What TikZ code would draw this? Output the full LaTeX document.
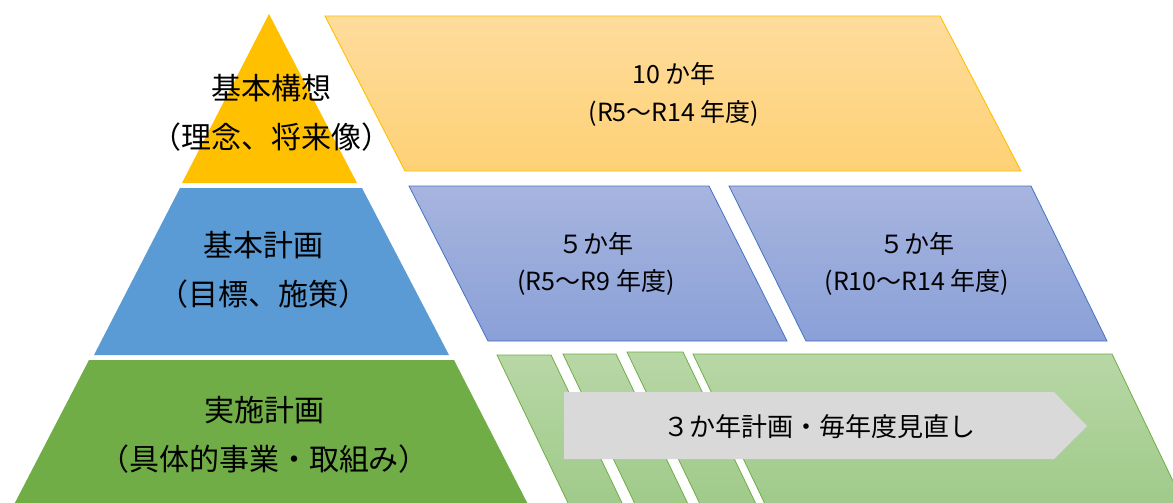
\documentclass[tikz,border=0pt]{standalone}
\usepackage{fontspec}
\setmainfont{Noto Sans CJK JP}
\usetikzlibrary{calc}
\definecolor{pyrGold}{HTML}{FFC000}
\definecolor{pyrBlue}{HTML}{5B9BD5}
\definecolor{pyrGreen}{HTML}{70AD47}
\definecolor{goldTop}{HTML}{FEDC9C}
\definecolor{goldBottom}{HTML}{FED176}
\definecolor{blueEdge}{HTML}{4472C4}
\definecolor{blueTop}{HTML}{A7B5DF}
\definecolor{blueBottom}{HTML}{8AA0D7}
\definecolor{greenTop}{HTML}{B8D7A6}
\definecolor{greenBottom}{HTML}{9DC987}
\definecolor{arrowGray}{HTML}{D9D9D9}
\tikzset{
    pyrText/.style={
        ,   align=center
        ,   font=\fontsize{30}{49}\selectfont
        ,   text=black
    },
    spanText/.style={
        ,   align=center
        ,   font=\fontsize{25}{37.5}\selectfont
        ,   text=black
    },
    goldSpan/.style={
        ,   draw=pyrGold
        ,   line width=0.9pt
        ,   top color=goldTop
        ,   bottom color=goldBottom
    },
    blueSpan/.style={
        ,   draw=blueEdge
        ,   line width=0.8pt
        ,   top color=blueTop
        ,   bottom color=blueBottom
    },
    greenSpan/.style={
        ,   draw=pyrGreen
        ,   line width=0.8pt
        ,   top color=greenTop
        ,   bottom color=greenBottom
    }
}
\begin{document}
\begin{tikzpicture}[x=1pt,y=-1pt]
	\clip (0,0) rectangle (1173,503);
	\fill[white] (0,0) rectangle (1173,503);

	% pyramid, three levels
	\fill[pyrGold] (269,14) -- (357,183) -- (182,183) -- cycle;
	\fill[pyrBlue] (180,188) -- (362,188) -- (449,355) -- (94,355) -- cycle;
	\fill[pyrGreen] (89,360) -- (454,360) -- (536,520) -- (6,520) -- cycle;
	\node[pyrText] (vision) at (271,112.5) {基本構想\\（理念、将来像）};
	\node[pyrText] (basic) at (263,270) {基本計画\\（目標、施策）};
	\node[pyrText] (action) at (264,434.5) {実施計画\\（具体的事業・取組み）};

	% 10 years
	\path[goldSpan] (325,16) -- (940,16) -- (1021,171) -- (405,171) -- cycle;
	\node[spanText] (tenYears) at (674,94.5) {10 か年\\(R5～R14 年度)};

	% two 5 year periods
	\path[blueSpan] (409,186) -- (709,186) -- (787,341) -- (488,341) -- cycle;
	\path[blueSpan] (729,186) -- (1031,186) -- (1107,341) -- (806,341) -- cycle;
	\node[spanText] (fiveA) at (596,264) {５か年\\(R5～R9 年度)};
	\node[spanText] (fiveB) at (917,264) {５か年\\(R10～R14 年度)};

	% yearly 3 year plans
	\foreach \l/\r/\t in {497/551/355, 563/616/354, 627/683/352, 693/1112/354}{
	\path[greenSpan] (\l,\t) -- (\r,\t) -- ($(\r,\t)+(0.48*520-0.48*\t,520-\t)$) -- ($(\l,\t)+(0.48*520-0.48*\t,520-\t)$) -- cycle;
	}
	\fill[arrowGray] (564,392) -- (1054,392) -- (1087,426) -- (1054,459) -- (564,459) -- cycle;
	\node[font=\fontsize{26}{30}\selectfont] (rolling) at (819,427) {３か年計画・毎年度見直し};
\end{tikzpicture}
\end{document}
